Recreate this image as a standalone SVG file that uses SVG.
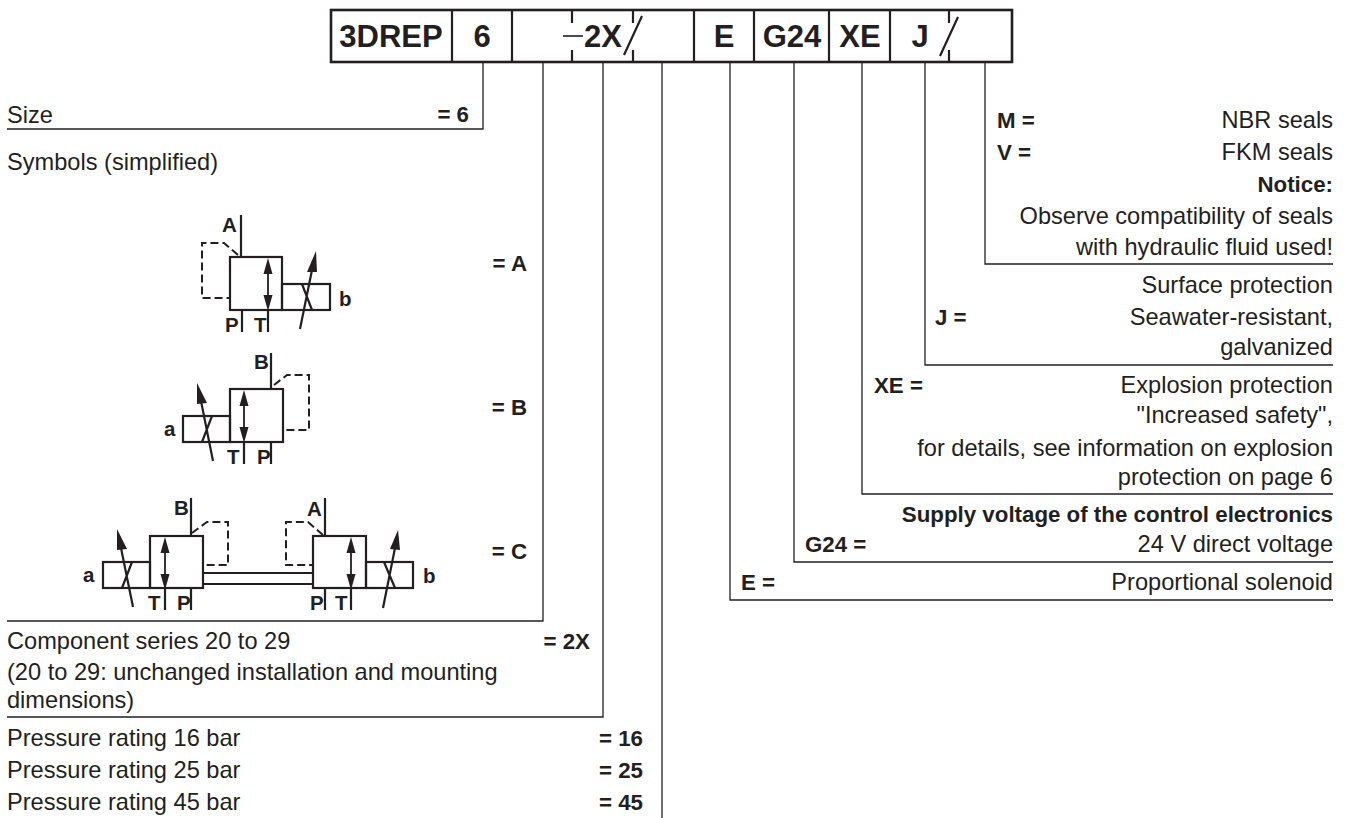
<svg xmlns="http://www.w3.org/2000/svg" width="1350" height="818" viewBox="0 0 1350 818">
<style>
text{font-family:"Liberation Sans",Arial,sans-serif;fill:#231f20;font-size:23.6px}
.b{font-weight:bold;font-size:22.3px}
.h{font-weight:bold;font-size:31px;text-anchor:middle}
.r{text-anchor:end}
.s{font-weight:bold;font-size:20.5px}
.l{fill:none;stroke:#231f20;stroke-width:1.3}
.t{fill:none;stroke:#231f20;stroke-width:2.2}
.d{fill:none;stroke:#231f20;stroke-width:2;stroke-dasharray:8 4}
.f{fill:#231f20;stroke:none}
</style>
<defs>
<g id="arr"><path class="l" style="stroke-width:1.8" d="M0 10V43"/><path class="f" d="M0 0L-4.500 16H4.500Z M0 53L-4.500 37H4.500Z"/></g>
</defs>
<g id="header">
<rect class="t" x="331" y="10" width="681" height="52" style="stroke-width:2.6"/>
<path class="t" d="M452 10V62M512 10V62M694 10V62M754 10V62M829 10V62M890 10V62M572 10V23M572 50V62M633 10V23M633 50V62M949 10V23M949 50V62"/>
<path class="t" d="M642 16L624 55M958 17L940 56"/><path class="l" d="M563 36H583" style="stroke-width:1.6"/>
<text class="h" x="391" y="47">3DREP</text>
<text class="h" x="482" y="47">6</text>
<text class="h" x="603" y="47">2X</text>
<text class="h" x="724" y="47">E</text>
<text class="h" x="792" y="47">G24</text>
<text class="h" x="860" y="47">XE</text>
<text class="h" x="920" y="47">J</text>
</g>
<g id="connectors">
<path class="l" d="M483 62V129H7"/>
<path class="l" d="M543 62V621H7"/>
<path class="l" d="M603 62V717H7"/>
<path class="l" d="M662 62V818"/>
<path class="l" d="M730 62V600H1333"/>
<path class="l" d="M794 62V562H1333"/>
<path class="l" d="M862 62V494H1333"/>
<path class="l" d="M925 62V365H1333"/>
<path class="l" d="M985 62V264H1333"/>
</g>
<g id="left-labels">
<text x="7" y="123">Size</text><text class="b r" x="469" y="122">= 6</text>
<text x="7" y="170">Symbols (simplified)</text>
<text class="b r" x="527" y="271">= A</text>
<text class="b r" x="527" y="415">= B</text>
<text class="b r" x="527" y="559">= C</text>
<text x="7" y="649">Component series 20 to 29</text><text class="b r" x="590" y="649">= 2X</text>
<text x="7" y="680">(20 to 29: unchanged installation and mounting</text>
<text x="7" y="708">dimensions)</text>
<text x="7" y="746">Pressure rating 16 bar</text><text class="b r" x="643" y="746">= 16</text>
<text x="7" y="778">Pressure rating 25 bar</text><text class="b r" x="643" y="778">= 25</text>
<text x="7" y="810">Pressure rating 45 bar</text><text class="b r" x="643" y="810">= 45</text>
</g>
<g id="right-labels">
<text class="b" x="997" y="128">M =</text><text class="r" x="1333" y="128">NBR seals</text>
<text class="b" x="997" y="160">V =</text><text class="r" x="1333" y="160">FKM seals</text>
<text class="b r" x="1333" y="192">Notice:</text>
<text class="r" x="1333" y="224">Observe compatibility of seals</text>
<text class="r" x="1333" y="255">with hydraulic fluid used!</text>
<text class="r" x="1333" y="293">Surface protection</text>
<text class="b" x="935" y="325">J =</text><text class="r" x="1333" y="325">Seawater-resistant,</text>
<text class="r" x="1333" y="355">galvanized</text>
<text class="b" x="874" y="393">XE =</text><text class="r" x="1333" y="393">Explosion protection</text>
<text class="r" x="1333" y="423">"Increased safety",</text>
<text class="r" x="1333" y="456">for details, see information on explosion</text>
<text class="r" x="1333" y="485">protection on page 6</text>
<text class="b r" x="1333" y="522">Supply voltage of the control electronics</text>
<text class="b" x="805" y="552">G24 =</text><text class="r" x="1333" y="552">24 V direct voltage</text>
<text class="b" x="741" y="590">E =</text><text class="r" x="1333" y="590">Proportional solenoid</text>
</g>
<g id="symbol-a">
<rect class="t" x="230" y="257" width="52" height="53"/><rect class="t" x="282" y="284" width="48" height="26"/>
<path class="t" d="M241 215V257M242 310V332M268 310V332"/>
<path class="d" d="M238 255L224 243H202V298H229"/>
<use href="#arr" x="268" y="258"/>
<path class="t" d="M300 329L312 270M302 284L312 310"/><path class="f" d="M316 251L307 272L317 272Z"/>
<text class="s" x="222" y="232">A</text><text class="s" x="225" y="332">P</text><text class="s" x="254" y="332">T</text><text class="s" x="339" y="306">b</text>
</g>
<g id="symbol-b">
<rect class="t" x="230" y="389" width="53" height="53"/><rect class="t" x="183" y="416" width="47" height="26"/>
<path class="t" d="M271 353V389M271 442V464M244 442V464"/>
<path class="d" d="M274 385L287 375H309V430H284"/>
<use href="#arr" x="244" y="390"/>
<path class="t" d="M213 461L201 401M212 416L202 442"/><path class="f" d="M197 383L207 403L197 404Z"/>
<text class="s" x="254" y="369">B</text><text class="s" x="227" y="464">T</text><text class="s" x="257" y="464">P</text><text class="s" x="164" y="436">a</text>
</g>
<g id="symbol-c">
<rect class="t" x="150" y="536" width="53" height="52"/><rect class="t" x="103" y="562" width="47" height="26"/>
<path class="t" d="M191 498V536M191 588V610M165 588V610M203 573H313M203 584H313"/>
<path class="d" d="M192 533L207 522H228V565H204"/>
<use href="#arr" x="165" y="537"/>
<path class="t" d="M133 607L121 548M132 562L122 588"/><path class="f" d="M117 529L127 549L117 550Z"/>
<text class="s" x="174" y="515">B</text><text class="s" x="148" y="610">T</text><text class="s" x="177" y="610">P</text><text class="s" x="83" y="582">a</text>
<rect class="t" x="313" y="536" width="53" height="52"/><rect class="t" x="366" y="562" width="47" height="26"/>
<path class="t" d="M325 498V536M325 588V610M351 588V610"/>
<path class="d" d="M323 535L308 522H286V565H312"/>
<use href="#arr" x="351" y="537"/>
<path class="t" d="M383 608L395 548M384 562L395 588"/><path class="f" d="M398 530L390 549L400 550Z"/>
<text class="s" x="307" y="516">A</text><text class="s" x="310" y="610">P</text><text class="s" x="335" y="610">T</text><text class="s" x="423" y="583">b</text>
</g>
</svg>
